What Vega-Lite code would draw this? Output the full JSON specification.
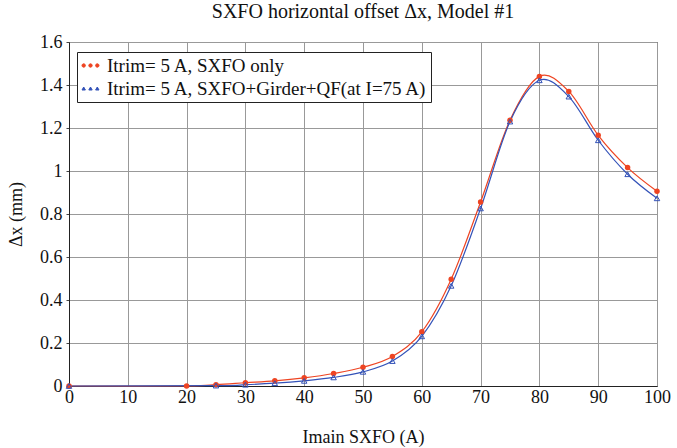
{
  "$schema": "https://vega.github.io/schema/vega-lite/v6.json",
  "width": 588,
  "height": 344,
  "autosize": {"type": "none"},
  "padding": {"left": 69, "top": 42, "right": 20, "bottom": 62},
  "background": "white",
  "title": {"text": "SXFO horizontal offset Δx, Model #1", "font": "Times New Roman, Liberation Serif, serif", "fontSize": 20, "fontWeight": "normal", "color": "#111", "offset": 11},
  "config": {
    "font": "Times New Roman, Liberation Serif, serif",
    "view": {"stroke": "#222", "strokeWidth": 1},
    "axis": {"labelFont": "Times New Roman, Liberation Serif, serif", "titleFont": "Times New Roman, Liberation Serif, serif", "labelFontSize": 18, "titleFontSize": 18, "titleFontWeight": "normal", "labelColor": "#111", "titleColor": "#111", "gridColor": "#999", "gridOpacity": 1, "gridWidth": 1, "domainColor": "#222", "tickColor": "#444", "tickSize": 3}
  },
  "data": {"values": [
    {"I": 0, "dx": 0, "s": "Itrim= 5 A, SXFO only"},
    {"I": 20, "dx": 0, "s": "Itrim= 5 A, SXFO only"},
    {"I": 25, "dx": 0.006, "s": "Itrim= 5 A, SXFO only"},
    {"I": 30, "dx": 0.015, "s": "Itrim= 5 A, SXFO only"},
    {"I": 35, "dx": 0.024, "s": "Itrim= 5 A, SXFO only"},
    {"I": 40, "dx": 0.038, "s": "Itrim= 5 A, SXFO only"},
    {"I": 45, "dx": 0.058, "s": "Itrim= 5 A, SXFO only"},
    {"I": 50, "dx": 0.087, "s": "Itrim= 5 A, SXFO only"},
    {"I": 55, "dx": 0.137, "s": "Itrim= 5 A, SXFO only"},
    {"I": 60, "dx": 0.252, "s": "Itrim= 5 A, SXFO only"},
    {"I": 65, "dx": 0.497, "s": "Itrim= 5 A, SXFO only"},
    {"I": 70, "dx": 0.856, "s": "Itrim= 5 A, SXFO only"},
    {"I": 75, "dx": 1.236, "s": "Itrim= 5 A, SXFO only"},
    {"I": 80, "dx": 1.440, "s": "Itrim= 5 A, SXFO only"},
    {"I": 85, "dx": 1.370, "s": "Itrim= 5 A, SXFO only"},
    {"I": 90, "dx": 1.166, "s": "Itrim= 5 A, SXFO only"},
    {"I": 95, "dx": 1.016, "s": "Itrim= 5 A, SXFO only"},
    {"I": 100, "dx": 0.906, "s": "Itrim= 5 A, SXFO only"},
    {"I": 0, "dx": 0, "s": "Itrim= 5 A, SXFO+Girder+QF(at I=75 A)"},
    {"I": 25, "dx": 0.002, "s": "Itrim= 5 A, SXFO+Girder+QF(at I=75 A)"},
    {"I": 30, "dx": 0.006, "s": "Itrim= 5 A, SXFO+Girder+QF(at I=75 A)"},
    {"I": 35, "dx": 0.013, "s": "Itrim= 5 A, SXFO+Girder+QF(at I=75 A)"},
    {"I": 40, "dx": 0.024, "s": "Itrim= 5 A, SXFO+Girder+QF(at I=75 A)"},
    {"I": 45, "dx": 0.040, "s": "Itrim= 5 A, SXFO+Girder+QF(at I=75 A)"},
    {"I": 50, "dx": 0.066, "s": "Itrim= 5 A, SXFO+Girder+QF(at I=75 A)"},
    {"I": 55, "dx": 0.116, "s": "Itrim= 5 A, SXFO+Girder+QF(at I=75 A)"},
    {"I": 60, "dx": 0.231, "s": "Itrim= 5 A, SXFO+Girder+QF(at I=75 A)"},
    {"I": 65, "dx": 0.466, "s": "Itrim= 5 A, SXFO+Girder+QF(at I=75 A)"},
    {"I": 70, "dx": 0.826, "s": "Itrim= 5 A, SXFO+Girder+QF(at I=75 A)"},
    {"I": 75, "dx": 1.230, "s": "Itrim= 5 A, SXFO+Girder+QF(at I=75 A)"},
    {"I": 80, "dx": 1.422, "s": "Itrim= 5 A, SXFO+Girder+QF(at I=75 A)"},
    {"I": 85, "dx": 1.346, "s": "Itrim= 5 A, SXFO+Girder+QF(at I=75 A)"},
    {"I": 90, "dx": 1.143, "s": "Itrim= 5 A, SXFO+Girder+QF(at I=75 A)"},
    {"I": 95, "dx": 0.985, "s": "Itrim= 5 A, SXFO+Girder+QF(at I=75 A)"},
    {"I": 100, "dx": 0.873, "s": "Itrim= 5 A, SXFO+Girder+QF(at I=75 A)"}
  ]},
  "encoding": {
    "x": {"field": "I", "type": "quantitative", "scale": {"domain": [0, 100], "nice": false}, "axis": {"title": "Imain SXFO (A)", "values": [0,10,20,30,40,50,60,70,80,90,100], "labelPadding": 2, "titlePadding": 22, "ticks": false, "labelOverlap": false, "labelFlush": false, "labelBound": false}},
    "y": {"field": "dx", "type": "quantitative", "scale": {"domain": [0, 1.6], "nice": false}, "axis": {"title": "Δx (mm)", "values": [0,0.2,0.4,0.6,0.8,1,1.2,1.4,1.6], "labelExpr": "format(datum.value, '~g')", "labelPadding": 4, "titlePadding": 14, "ticks": true, "labelFlush": false, "labelOverlap": false}},
    "color": {"field": "s", "type": "nominal", "scale": {"domain": ["Itrim= 5 A, SXFO only", "Itrim= 5 A, SXFO+Girder+QF(at I=75 A)"], "range": ["#EE4422", "#3352B8"]},
      "legend": {"title": null, "orient": "none", "legendX": 8, "legendY": 10, "labelFont": "Times New Roman, Liberation Serif, serif", "labelFontSize": 19, "labelColor": "#111", "labelLimit": 400, "strokeColor": "#222", "fillColor": "white", "padding": 3, "rowPadding": 2, "symbolSize": 400, "symbolOffset": 0, "labelOffset": 6,
        "encode": {"symbols": {"update": {
          "shape": {"signal": "datum.value === 'Itrim= 5 A, SXFO only' ? 'M-0.85,0a0.17,0.17 0 1,0 0.34,0a0.17,0.17 0 1,0 -0.34,0M-0.17,0a0.17,0.17 0 1,0 0.34,0a0.17,0.17 0 1,0 -0.34,0M0.51,0a0.17,0.17 0 1,0 0.34,0a0.17,0.17 0 1,0 -0.34,0' : 'M-0.85,0.15L-0.68,-0.15L-0.51,0.15ZM-0.17,0.15L0,-0.15L0.17,0.15ZM0.51,0.15L0.68,-0.15L0.85,0.15Z'"},
          "fill": {"signal": "datum.value === 'Itrim= 5 A, SXFO only' ? '#EE4422' : 'transparent'"},
          "stroke": {"signal": "datum.value === 'Itrim= 5 A, SXFO only' ? '#EE4422' : '#3352B8'"},
          "strokeWidth": {"value": 1},
          "opacity": {"value": 1}
        }}}}
    }
  },
  "layer": [
    {"mark": {"type": "line", "interpolate": "cardinal", "strokeWidth": 1.2}},
    {"mark": {"type": "point", "size": 30, "filled": true, "opacity": 1}, "transform": [{"filter": "datum.s === 'Itrim= 5 A, SXFO only'"}]},
    {"mark": {"type": "point", "shape": "triangle-up", "size": 30, "filled": false, "strokeWidth": 1, "opacity": 1}, "transform": [{"filter": "datum.s !== 'Itrim= 5 A, SXFO only'"}]}
  ]
}
